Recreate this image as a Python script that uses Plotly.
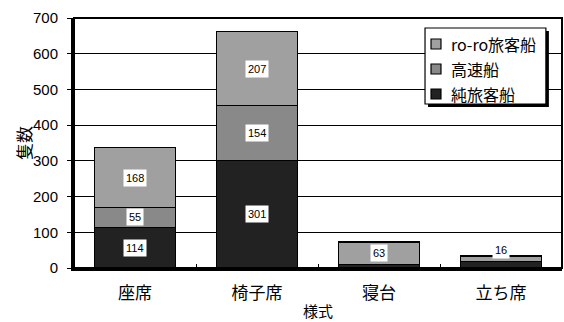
import plotly.graph_objects as go

# Seating categories and vessel counts per ship type
categories = ["座席", "椅子席", "寝台", "立ち席"]
pure_passenger = [114, 301, 10, 18]   # 純旅客船
high_speed = [55, 154, 0, 0]          # 高速船
roro_passenger = [168, 207, 63, 16]   # ro-ro旅客船

y_ticks = [0, 100, 200, 300, 400, 500, 600, 700]

FONT = "Liberation Sans, Arial, Noto Sans CJK JP"
JP = "Noto Sans CJK JP"

series = [
    ("純旅客船", pure_passenger, "#222222"),
    ("高速船", high_speed, "#898989"),
    ("ro-ro旅客船", roro_passenger, "#a0a0a0"),
]

fig = go.Figure()
for name, vals, color in series:
    fig.add_trace(go.Bar(
        x=categories, y=vals, name=name, showlegend=False,
        marker=dict(color=color, line=dict(color="#000000", width=1.5)),
    ))

# White-boxed value labels centred in each segment
labelled = {
    "純旅客船": [True, True, False, False],
    "高速船": [True, True, False, False],
    "ro-ro旅客船": [True, True, True, True],
}
annotations = []
base = [0] * len(categories)
for name, vals, _ in series:
    for i, v in enumerate(vals):
        if labelled[name][i]:
            shift = 9 if v < 20 else 0
            annotations.append(dict(
                x=categories[i], y=base[i] + v / 2, xref="x", yref="y",
                text=str(v), showarrow=False, yshift=shift,
                font=dict(family=FONT, size=11, color="#000000"),
                bgcolor="#ffffff", borderpad=2,
            ))
        base[i] += v

# Axis titles
annotations.append(dict(
    x=-0.1045, y=0.5, xref="paper", yref="paper", text="隻数",
    textangle=-90, showarrow=False, xanchor="center", yanchor="middle",
    font=dict(family=JP, size=17, color="#000000"),
))
annotations.append(dict(
    x=0.5, y=-0.17, xref="paper", yref="paper", text="様式",
    showarrow=False, xanchor="center", yanchor="middle",
    font=dict(family=JP, size=15, color="#000000"),
))

# Hand-drawn legend box with drop shadow (top entry = top of stack)
lx0, lx1, ly0, ly1 = 0.7193, 0.967, 0.656, 0.96
sx, sy = 3 / 488, 3 / 250
shapes = [
    dict(type="rect", xref="paper", yref="paper",
         x0=lx0 + sx, x1=lx1 + sx, y0=ly0 - sy, y1=ly1 - sy,
         fillcolor="#000000", line=dict(width=0), layer="above"),
    dict(type="rect", xref="paper", yref="paper",
         x0=lx0, x1=lx1, y0=ly0, y1=ly1,
         fillcolor="#ffffff", line=dict(color="#000000", width=1.2), layer="above"),
    # plot-area frame
    dict(type="rect", xref="paper", yref="paper", x0=0, x1=1, y0=0, y1=1,
         line=dict(color="#000000", width=2), layer="above"),
]
item_y = [0.696, 0.796, 0.896]
for (name, _, color), yc in zip(series, item_y):
    shapes.append(dict(
        type="rect", xref="paper", yref="paper",
        x0=0.7316, x1=0.752, y0=yc - 0.02, y1=yc + 0.02,
        fillcolor=color, line=dict(color="#000000", width=1.2), layer="above",
    ))
    annotations.append(dict(
        x=0.7684, y=yc, xref="paper", yref="paper", text=name,
        showarrow=False, xanchor="left", yanchor="middle",
        font=dict(family=JP, size=16, color="#000000"),
    ))

fig.update_layout(
    width=564, height=322,
    margin=dict(l=74, r=2, t=18, b=54),
    paper_bgcolor="#ffffff", plot_bgcolor="#ffffff",
    barmode="stack", bargap=0.34,
    font=dict(family=FONT, size=15, color="#000000"),
    showlegend=False,
    annotations=annotations,
    shapes=shapes,
    xaxis=dict(
        showline=True, linecolor="#000000", linewidth=3,
        ticks="inside", ticklen=4, tickcolor="#000000", tickson="boundaries",
        tickfont=dict(family=JP, size=17),
        ticklabelstandoff=8, showgrid=False,
    ),
    yaxis=dict(
        range=[0, 700], tickvals=y_ticks,
        showline=True, linecolor="#000000", linewidth=3,
        ticks="outside", ticklen=4, tickcolor="#000000",
        showgrid=True, gridcolor="#000000", gridwidth=1.3,
        zeroline=False,
        tickfont=dict(family="Liberation Sans, Arial", size=15),
        ticklabelstandoff=6,
    ),
)

fig.write_html("out.html")
